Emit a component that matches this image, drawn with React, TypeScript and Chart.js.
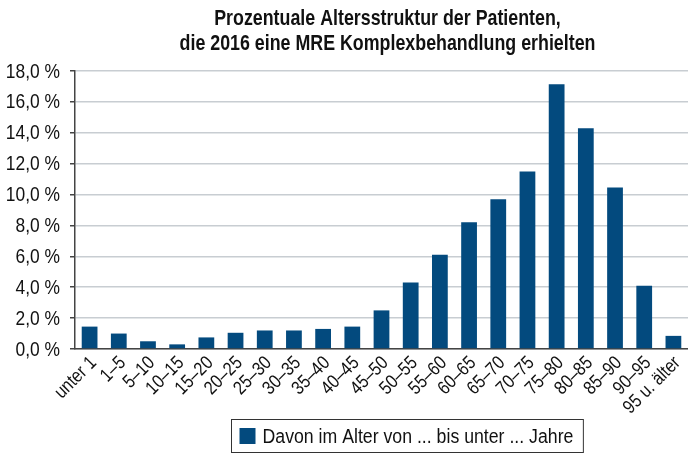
import React, { useEffect, useRef } from 'react';
import { Chart, registerables } from 'chart.js';

Chart.register(...registerables);

const TITLE_LINES = [
  'Prozentuale Altersstruktur der Patienten,',
  'die 2016 eine MRE Komplexbehandlung erhielten',
];

const CATEGORIES = [
  'unter 1', '1–5', '5–10', '10–15', '15–20', '20–25', '25–30', '30–35', '35–40', '40–45',
  '45–50', '50–55', '55–60', '60–65', '65–70', '70–75', '75–80', '80–85', '85–90', '90–95',
  '95 u. älter',
];

const VALUES = [
  1.45, 1.0, 0.5, 0.3, 0.75, 1.05, 1.2, 1.2, 1.3, 1.45,
  2.5, 4.3, 6.1, 8.2, 9.7, 11.5, 17.15, 14.3, 10.45, 4.1,
  0.85,
];

const SERIES_LABEL = 'Davon im Alter von ... bis unter ... Jahre';
const Y_MIN = 0;
const Y_MAX = 18;
const Y_STEP = 2;

const BAR_COLOR = '#034a7e';
const FONT = '"Liberation Sans", Arial, sans-serif';
const TEXT_COLOR = '#111';

// draw text horizontally condensed (narrow-font look)
function narrowText(ctx: any, text: string, x: number, y: number, sx: number, align: string) {
  ctx.save();
  ctx.translate(x, y);
  ctx.scale(sx, 1);
  ctx.textAlign = align;
  ctx.fillText(text, 0, 0);
  ctx.restore();
}

const titlePlugin = {
  id: 'customTitle',
  afterDraw(chart: any) {
    const { ctx, chartArea } = chart;
    ctx.save();
    ctx.font = `bold 22px ${FONT}`;
    ctx.fillStyle = TEXT_COLOR;
    ctx.textBaseline = 'alphabetic';
    const cx = (chartArea.left + chartArea.right) / 2 + 6;
    narrowText(ctx, TITLE_LINES[0], cx, 25, 0.81, 'center');
    narrowText(ctx, TITLE_LINES[1], cx, 50, 0.81, 'center');
    ctx.restore();
  },
};

const tickLabelPlugin = {
  id: 'narrowTicks',
  afterDraw(chart: any) {
    const { ctx } = chart;
    const ys = chart.scales.y;
    const xs = chart.scales.x;
    ctx.save();
    ctx.fillStyle = TEXT_COLOR;
    // y labels
    ctx.font = `20px ${FONT}`;
    ctx.textBaseline = 'middle';
    ys.ticks.forEach((t: any) => {
      const y = ys.getPixelForValue(t.value);
      const label = Number(t.value).toFixed(1).replace('.', ',') + ' %';
      narrowText(ctx, label, ys.right - 15, y + 1, 0.87, 'right');
    });
    // x labels
    ctx.font = `19px ${FONT}`;
    const base = ys.getPixelForValue(Y_MIN);
    (chart.data.labels as string[]).forEach((lab, i) => {
      const x = xs.getPixelForValue(i);
      ctx.save();
      ctx.translate(x + 4, base + 11);
      ctx.rotate(-Math.PI / 4);
      ctx.scale(0.85, 1);
      ctx.textAlign = 'right';
      ctx.textBaseline = 'middle';
      ctx.fillText(lab, 0, 0);
      ctx.restore();
    });
    ctx.restore();
  },
};

const legendPlugin = {
  id: 'boxedLegend',
  afterDraw(chart: any) {
    const { ctx } = chart;
    const ds = chart.data.datasets[0];
    ctx.save();
    ctx.font = `20px ${FONT}`;
    const sxl = 0.885;
    const tw = ctx.measureText(ds.label).width * sxl;
    const boxX = 231.5;
    const boxY = 419.5;
    const pad = 8;
    const sq = 16;
    const gap = 7;
    const w = pad + sq + gap + tw + pad + 2;
    const h = 33;
    ctx.strokeStyle = '#333';
    ctx.lineWidth = 1;
    ctx.strokeRect(boxX, boxY, w, h);
    ctx.fillStyle = ds.backgroundColor;
    ctx.fillRect(boxX + pad, boxY + (h - sq) / 2, sq, sq);
    ctx.fillStyle = TEXT_COLOR;
    ctx.textBaseline = 'middle';
    narrowText(ctx, ds.label, boxX + pad + sq + gap, boxY + h / 2 + 1, sxl, 'left');
    ctx.restore();
  },
};

export default function App() {
  const ref = useRef<HTMLCanvasElement | null>(null);

  useEffect(() => {
    if (!ref.current) return;
    const chart = new Chart(ref.current, {
      type: 'bar',
      data: {
        labels: CATEGORIES,
        datasets: [
          {
            label: SERIES_LABEL,
            data: VALUES,
            backgroundColor: BAR_COLOR,
            categoryPercentage: 1,
            barPercentage: 0.54,
          },
        ],
      },
      options: {
        animation: false,
        responsive: false,
        maintainAspectRatio: false,
        devicePixelRatio: 1,
        layout: { padding: { top: 71, right: 0, bottom: 44, left: 0 } },
        plugins: {
          legend: { display: false },
          title: { display: false },
          tooltip: { enabled: false },
        },
        scales: {
          x: {
            grid: { display: false, drawTicks: false },
            border: { display: true, color: '#444', width: 1.5 },
            ticks: { display: false, autoSkip: false },
            afterFit(scale: any) {
              scale.height = 62;
            },
          },
          y: {
            min: Y_MIN,
            max: Y_MAX,
            grid: {
              color: '#c8cdd2',
              lineWidth: 1.5,
              tickLength: 5,
              tickColor: '#444',
            },
            border: { display: true, color: '#444', width: 1.5 },
            ticks: { display: false, stepSize: Y_STEP },
            afterFit(scale: any) {
              scale.width = 75;
            },
          },
        },
      },
      plugins: [tickLabelPlugin, titlePlugin, legendPlugin],
    });
    return () => chart.destroy();
  }, []);

  return (
    <div style={{ position: 'fixed', left: 0, top: 0, width: 688, height: 455, background: '#fff' }}>
      <canvas ref={ref} width={688} height={455} style={{ width: 688, height: 455, display: 'block' }} />
    </div>
  );
}
